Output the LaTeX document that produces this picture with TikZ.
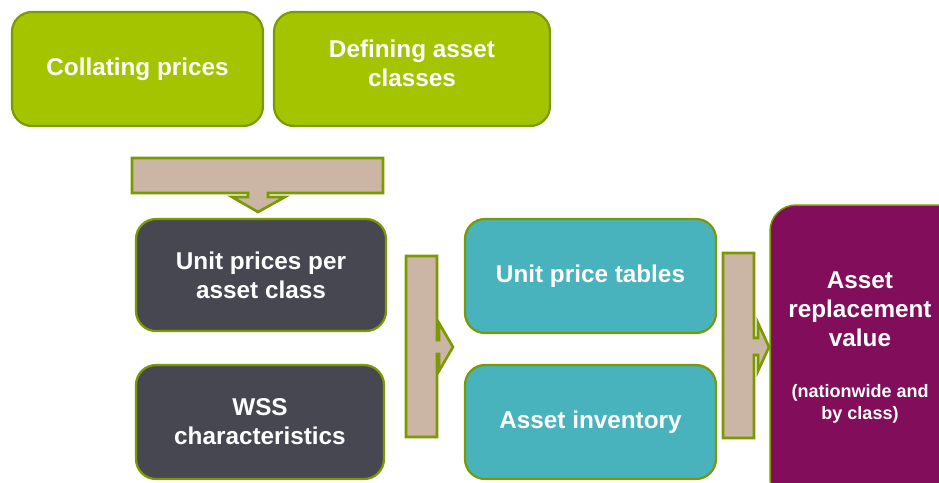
\documentclass[tikz,border=0pt]{standalone}
\usepackage{fontspec}
\setmainfont{Liberation Sans}
\definecolor{gfill}{HTML}{A5C400}
\definecolor{gline}{HTML}{7B9900}
\definecolor{afill}{HTML}{CBB6A5}
\definecolor{dfill}{HTML}{474751}
\definecolor{tfill}{HTML}{48B3BC}
\definecolor{pfill}{HTML}{820D5A}
\tikzset{
  box/.style={draw=gline, line width=2.2pt, rounded corners=20pt, text=white,
    font=\bfseries\fontsize{24.3}{29}\selectfont, align=center, inner sep=0pt},
  arrowshape/.style={draw=gline, fill=afill, line width=2.6pt, line join=miter},
  lbl/.style={text=white, align=center, inner sep=0pt}
}
\begin{document}
\begin{tikzpicture}[x=1pt,y=-1pt]
\clip (0,0) rectangle (939,482);
\fill[white] (0,0) rectangle (939,482);
% top green boxes
\node[box, fill=gfill, minimum width=251pt, minimum height=114pt] (collate) at (137.5,69) {Collating prices};
\node[box, fill=gfill, minimum width=276pt, minimum height=114pt] (define) at (412,69) {};
\node[lbl, font=\bfseries\fontsize{24.3}{29}\selectfont] (definet) at (412,63) {Defining asset\\classes};
% down arrow
\draw[arrowshape] (132,158) -- (383,158) -- (383,193) -- (268,193) -- (268,197) -- (285,197)
  -- (258,212) -- (232,197) -- (248,197) -- (248,193) -- (132,193) -- cycle;
% dark boxes
\node[box, fill=dfill, minimum width=250pt, minimum height=112pt] (unitp) at (261,275) {Unit prices per\\asset class};
\node[box, fill=dfill, minimum width=248pt, minimum height=114pt] (wss) at (260,422) {WSS\\characteristics};
% right arrow 1
\draw[arrowshape] (406,256) -- (437,256) -- (437,340) -- (439,340) -- (439,323) -- (453,347)
  -- (439,371) -- (439,354) -- (437,354) -- (437,437) -- (406,437) -- cycle;
% teal boxes
\node[box, fill=tfill, minimum width=251pt, minimum height=114pt] (tables) at (590.5,276) {Unit price tables};
\node[box, fill=tfill, minimum width=251pt, minimum height=114pt] (inv) at (590.5,422) {Asset inventory};
% right arrow 2
\draw[arrowshape] (723,253) -- (754,253) -- (754,338) -- (758,338) -- (758,323) -- (769,347)
  -- (758,371) -- (758,355) -- (754,355) -- (754,438) -- (723,438) -- cycle;
% purple box
\node[box, fill=pfill, line width=1.5pt, rounded corners=26pt, minimum width=200pt, minimum height=300pt] (arv) at (870,355) {};
\node[lbl, font=\bfseries\fontsize{24.3}{29}\selectfont, anchor=north] (arvt) at (860,272) {Asset\\replacement\\value};
\node[lbl, font=\bfseries\fontsize{18}{22}\selectfont, anchor=north] (arvs) at (860,384) {(nationwide and\\by class)};
\end{tikzpicture}
\end{document}
